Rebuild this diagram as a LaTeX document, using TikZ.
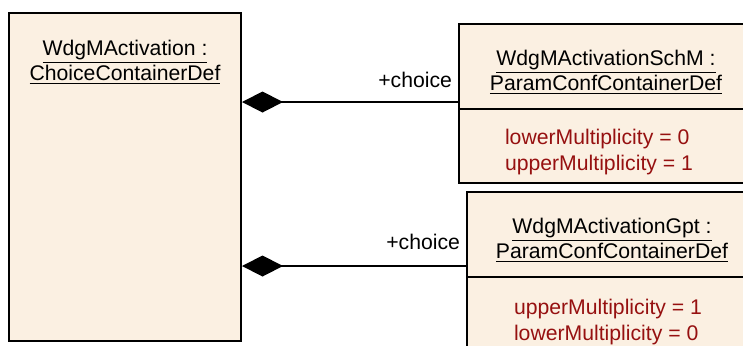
\documentclass[tikz,border=0pt]{standalone}
\usepackage{fontspec}
\setmainfont{Liberation Sans}
\usetikzlibrary{positioning,arrows.meta,calc}
\definecolor{boxfill}{RGB}{251,240,226}
\definecolor{attrred}{RGB}{150,16,16}
\begin{document}
\begin{tikzpicture}[x=0.5pt,y=-0.5pt,font=\fontsize{10.6}{12.5}\selectfont,
    every node/.style={inner sep=0pt}]
        \tikzset{box/.style = {draw,line width=1pt,fill=boxfill},
                 comp/.style = {{Diamond[length=20.5pt,width=10.5pt]}-,line width=1pt},
                 attr/.style = {text=attrred,align=left,font=\fontsize{10.6}{13}\selectfont}}
        \useasboundingbox (0,0) rectangle (743,345);
        \clip (0,0) rectangle (743,345);
        \node[box,minimum width=116pt,minimum height=164pt] (act) at (125,177) {};
        \node[align=center] (actT) at (125,62) {\underline{WdgMActivation :}\\\underline{ChoiceContainerDef}};
        
        \node[box,minimum width=160pt,minimum height=42.5pt] (schT) at (619,66.5) {};
        \node[box,minimum width=160pt,minimum height=37pt,below=-1pt of schT] (schA) {};
        \node[align=center] at (606,72) {\underline{WdgMActivationSchM :}\\\underline{ParamConfContainerDef}};
        \node[attr] at (599,152) {lowerMultiplicity = 0\\upperMultiplicity = 1};
        
        \node[box,minimum width=160pt,minimum height=42.5pt] (gptT) at (627,234.5) {};
        \node[box,minimum width=160pt,minimum height=40pt,below=-1pt of gptT] (gptA) {};
        \node[align=center] at (612,240) {\underline{WdgMActivationGpt :}\\\underline{ParamConfContainerDef}};
        \node[attr] at (608,322) {upperMultiplicity = 1\\lowerMultiplicity = 0};
        
        \coordinate (schC) at ($(schT.north west)+(0,79)$);
        \coordinate (gptC) at ($(gptT.north west)+(0,75)$);
        \draw[comp] (act.east |- schC) -- (schC) node[pos=1,above left,inner xsep=2.5pt,inner ysep=6.5pt] {+choice};
        \draw[comp] (act.east |- gptC) -- (gptC) node[pos=1,above left,inner xsep=2.5pt,inner ysep=7.5pt] {+choice};
\end{tikzpicture}
\end{document}
